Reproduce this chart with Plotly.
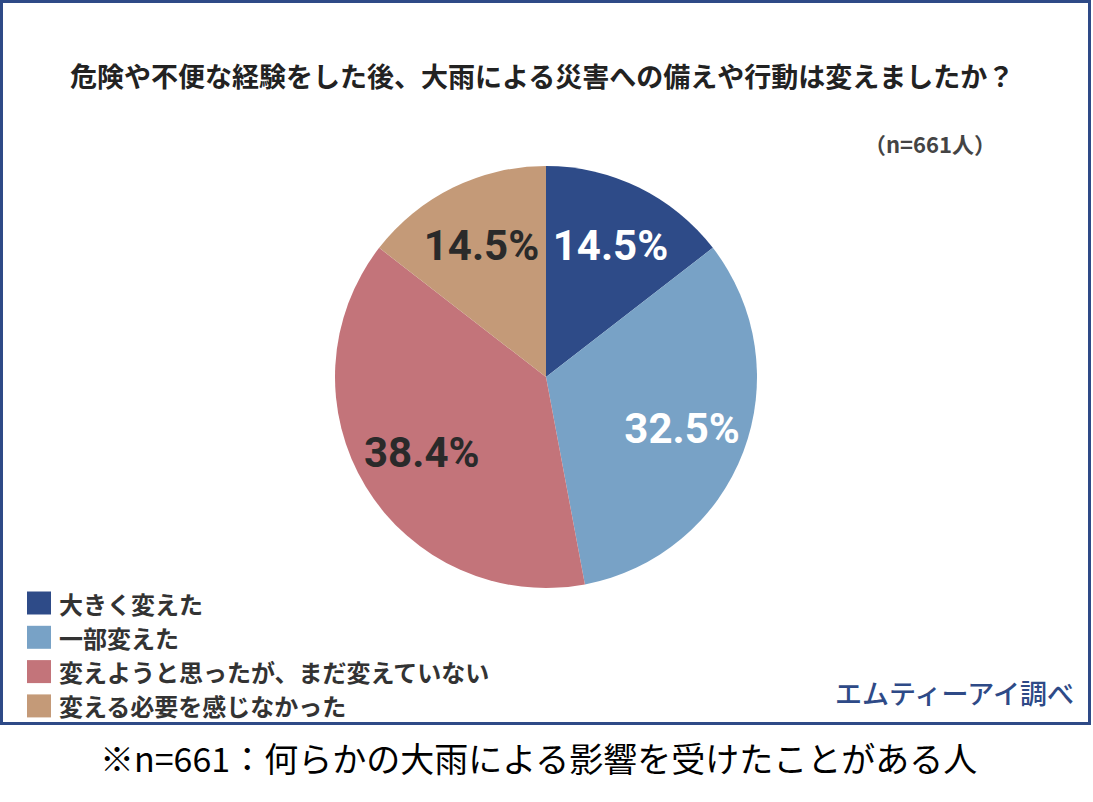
import plotly.graph_objects as go

# ---- data ----
categories = ["大きく変えた", "一部変えた", "変えようと思ったが、まだ変えていない", "変える必要を感じなかった"]
values = [14.5, 32.5, 38.4, 14.5]
slice_colors = ["#2E4B88", "#78A2C6", "#C3747A", "#C49A78"]
text_colors = ["#FFFFFF", "#FFFFFF", "#2A2A2A", "#2A2A2A"]
labels_text = [f"{v:.1f}%" for v in values]

title_text = "危険や不便な経験をした後、大雨による災害への備えや行動は変えましたか？"
n_text = "（n=661人）"
source_text = "エムティーアイ調べ"
caption_text = "※n=661：何らかの大雨による影響を受けたことがある人"

W, H = 1093, 802
FRAME = "#2E4A87"
JP = "Noto Sans CJK JP"
NUM = "Roboto, sans-serif"


def px(x):
    return x / W


def py(y):
    return 1 - y / H


pie_domain = dict(x=[px(335), px(757)], y=[py(588), py(166)])

fig = go.Figure()
# filled slices
fig.add_trace(go.Pie(
    labels=categories,
    values=values,
    textinfo="none",
    sort=False,
    direction="clockwise",
    rotation=0,
    marker=dict(colors=slice_colors, line=dict(width=0)),
    domain=pie_domain,
    showlegend=False,
    hoverinfo="label+percent",
))
# transparent ring carrying the percentage labels further out in each slice
fig.add_trace(go.Pie(
    labels=categories,
    values=values,
    text=labels_text,
    textinfo="text",
    textposition="inside",
    insidetextorientation="horizontal",
    hole=0.38,
    sort=False,
    direction="clockwise",
    rotation=0,
    marker=dict(colors=["rgba(0,0,0,0)"] * len(values), line=dict(width=0)),
    textfont=dict(family=NUM, size=42, color=text_colors, weight="bold"),
    domain=pie_domain,
    showlegend=False,
    hoverinfo="skip",
))

shapes = [
    dict(type="rect", xref="paper", yref="paper",
         x0=px(1.5), x1=px(1089.5), y0=py(723.5), y1=py(1.5),
         line=dict(color=FRAME, width=3), fillcolor="rgba(0,0,0,0)"),
]
annotations = [
    dict(text=title_text, x=px(542), y=py(75), xref="paper", yref="paper",
         showarrow=False, xanchor="center", yanchor="middle",
         font=dict(family=JP, size=27, color="#222222", weight="bold")),
    dict(text=n_text, x=px(998), y=py(143), xref="paper", yref="paper",
         showarrow=False, xanchor="right", yanchor="middle",
         font=dict(family=JP, size=22, color="#444444", weight="bold")),
    dict(text=source_text, x=px(1076), y=py(692), xref="paper", yref="paper",
         showarrow=False, xanchor="right", yanchor="middle",
         font=dict(family=JP, size=27, color=FRAME, weight=500)),
    dict(text=caption_text, x=px(538), y=py(757), xref="paper", yref="paper",
         showarrow=False, xanchor="center", yanchor="middle",
         font=dict(family=JP, size=34, color="#000000")),
]

# custom legend built from the category list
leg_top = 603
leg_step = 34.3
for i, (cat, col) in enumerate(zip(categories, slice_colors)):
    cy = leg_top + i * leg_step
    shapes.append(dict(type="rect", xref="paper", yref="paper",
                       x0=px(27), x1=px(51), y0=py(cy + 11.5), y1=py(cy - 11.5),
                       line=dict(width=0), fillcolor=col))
    annotations.append(dict(text=cat, x=px(57), y=py(cy), xref="paper", yref="paper",
                            showarrow=False, xanchor="left", yanchor="middle",
                            font=dict(family=JP, size=24, color="#333333", weight="bold")))

fig.update_layout(
    width=W, height=H,
    margin=dict(l=0, r=0, t=0, b=0),
    paper_bgcolor="white", plot_bgcolor="white",
    shapes=shapes, annotations=annotations,
    showlegend=False,
)

fig.write_html(
    "out.html",
    config={"displayModeBar": False},
    post_script="document.body.style.margin='0';document.body.style.overflow='hidden';",
)
